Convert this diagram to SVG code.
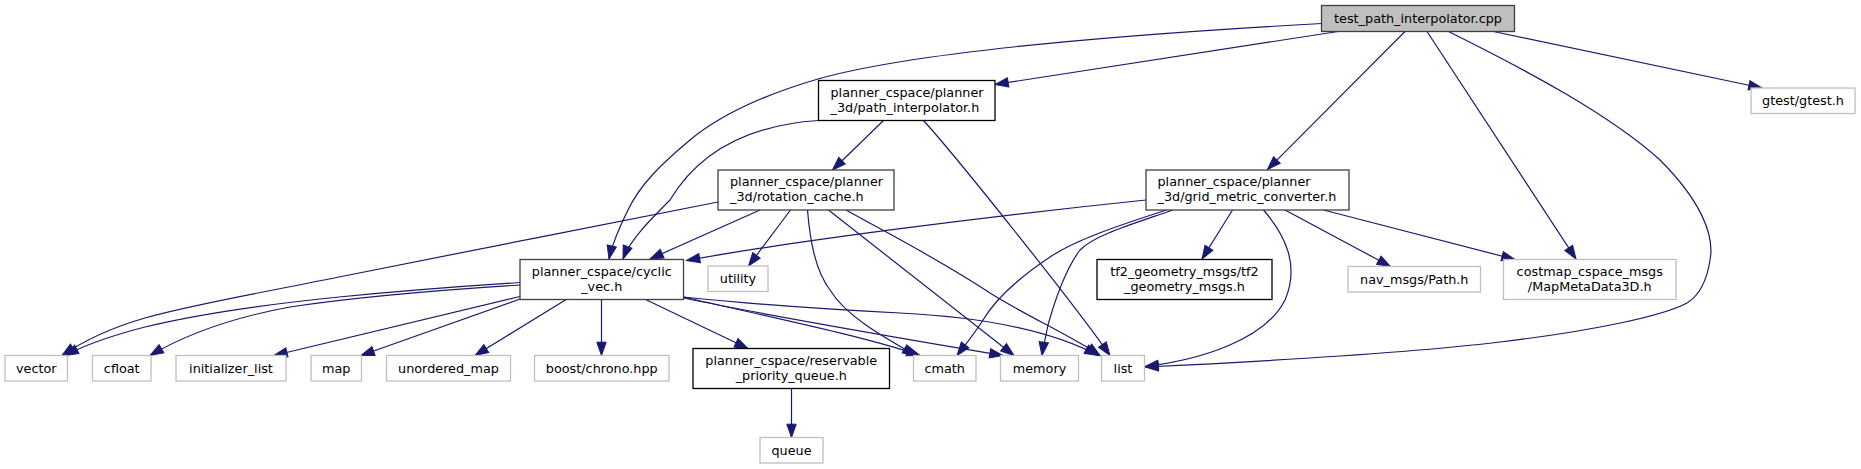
<svg xmlns="http://www.w3.org/2000/svg" width="1861" height="469" viewBox="0 0 1861 469">
<style>
rect{stroke-width:1.3}
.doc{fill:#fff;stroke:#000}
.dg{fill:#fff;stroke:#404040}
.ext{fill:#fff;stroke:#bfbfbf}
.root{fill:#bfbfbf;stroke:#404040}
text{font-family:"DejaVu Sans","Liberation Sans",sans-serif;font-size:12.8px;fill:#000}
.c{text-anchor:middle}
#edges path{fill:none;stroke:#191970;stroke-width:1.2;marker-end:url(#a)}
</style>
<defs>
<marker id="a" markerUnits="userSpaceOnUse" markerWidth="15" markerHeight="11" refX="13.3" refY="4.7" orient="auto" overflow="visible">
<path d="M0,0 L13.3,4.7 L0,9.4 Z" fill="#191970" stroke="#191970" stroke-width="1"/>
</marker>
</defs>
<rect width="1861" height="469" fill="#fff"/>
<g id="edges">
<path d="M1321.5,23.5 C1150,33 920,50 818,79 C760,96 720,115 690,140 C660,165 640,185 628,210 C618,230 612,245 609,259"/>
<path d="M1338,31.5 L995,84.5"/>
<path d="M1405,31.5 L1267.5,169.5"/>
<path d="M1427,31.5 L1576,259"/>
<path d="M1448.5,31.5 C1530,72 1610,115 1660,160 C1700,200 1715,235 1710,260 C1707,280 1700,295 1687,303 C1665,315 1600,330 1500,342 C1400,354 1250,362 1145,367"/>
<path d="M1493.5,31.5 L1762,88"/>
<path d="M818.5,120.5 C750,125 700,150 670,200 C650,220 630,240 623,259"/>
<path d="M883.5,120.5 L832.5,170"/>
<path d="M923.5,120.5 C955,155 1075,305 1110,355.5"/>
<path d="M718,202 C600,225 450,255 339,277 C260,293 190,305 145,318 C110,328 85,340 62,355.5"/>
<path d="M760,210 L650,259"/>
<path d="M790.5,210 L748.5,266"/>
<path d="M807.5,210 C810,240 815,270 830,290 C845,315 880,335 916,355.5"/>
<path d="M828.5,210 L1014,355.5"/>
<path d="M846,210 C900,240 940,260 990,293 C1030,318 1070,335 1100,355.5"/>
<path d="M1146,200 C1000,215 800,240 686.5,260.5"/>
<path d="M1166.5,210 C1120,225 1075,240 1050,257 C1020,277 995,300 983,320 C975,333 965,345 957,355.5"/>
<path d="M1173,210 C1130,225 1095,235 1080,250 C1065,270 1055,300 1048,325 C1045,340 1043,348 1042,355.5"/>
<path d="M1232.5,210 L1202,259"/>
<path d="M1263.5,210 C1285,235 1300,265 1285,300 C1265,340 1200,360 1145,366.5"/>
<path d="M1285,210 L1390.5,266.5"/>
<path d="M1323.5,210 L1515,259.5"/>
<path d="M520,282.5 C450,287 390,292 339,297 C260,305 190,316 145,327 C110,336 85,345 65,355.5"/>
<path d="M520,285 C440,290 350,298 290,307 C230,318 185,335 150,355.5"/>
<path d="M520,296.5 L274,355.5"/>
<path d="M520,299 L361,355.5"/>
<path d="M567,299 L475,355.5"/>
<path d="M601.5,299 L601.5,355.5"/>
<path d="M644.5,299 L748,348.5"/>
<path d="M683.5,297 C760,315 860,335 920,355.5"/>
<path d="M683.5,298 C780,318 900,338 1003,355.5"/>
<path d="M683.5,297 C760,305 840,310 900,313 C1000,318 1060,335 1098,355.5"/>
<path d="M791.5,388.5 L791.5,437.5"/>
</g>
<g id="root"><rect class="root" x="1321.5" y="5.5" width="193" height="26"/><text class="c" x="1418" y="23">test_path_interpolator.cpp</text></g>
<g id="path_interpolator"><rect class="doc" x="818.5" y="80.5" width="176.5" height="40"/><text x="830.5" y="96.5">planner_cspace/planner</text><text x="830.5" y="111.5">_3d/path_interpolator.h</text></g>
<g id="rotation_cache"><rect class="dg" x="718" y="170" width="176" height="40"/><text x="730" y="186">planner_cspace/planner</text><text x="730" y="201">_3d/rotation_cache.h</text></g>
<g id="grid_metric_converter"><rect class="dg" x="1146" y="170" width="203" height="40"/><text x="1157.5" y="186">planner_cspace/planner</text><text x="1157.5" y="201">_3d/grid_metric_converter.h</text></g>
<g id="gtest"><rect class="ext" x="1751" y="88" width="104" height="25.5"/><text class="c" x="1803" y="105.4">gtest/gtest.h</text></g>
<g id="cyclic_vec"><rect class="dg" x="520" y="259.5" width="163.5" height="40"/><text class="c" x="601.75" y="275.5">planner_cspace/cyclic</text><text class="c" x="601.75" y="290.5">_vec.h</text></g>
<g id="utility"><rect class="ext" x="708" y="266" width="60" height="25.5"/><text class="c" x="738" y="283.4">utility</text></g>
<g id="tf2"><rect class="doc" x="1097" y="259.5" width="175" height="40"/><text class="c" x="1184.5" y="275.5">tf2_geometry_msgs/tf2</text><text class="c" x="1184.5" y="290.5">_geometry_msgs.h</text></g>
<g id="nav_msgs"><rect class="ext" x="1348" y="266.5" width="132.5" height="25.5"/><text class="c" x="1414.25" y="283.9">nav_msgs/Path.h</text></g>
<g id="costmap"><rect class="ext" x="1503.5" y="259.5" width="172.5" height="40"/><text class="c" x="1589.75" y="275.5">costmap_cspace_msgs</text><text class="c" x="1589.75" y="290.5">/MapMetaData3D.h</text></g>
<g id="vector"><rect class="ext" x="5" y="355.5" width="62.5" height="25.5"/><text class="c" x="36.25" y="372.9">vector</text></g>
<g id="cfloat"><rect class="ext" x="92.5" y="355.5" width="58.5" height="25.5"/><text class="c" x="121.75" y="372.9">cfloat</text></g>
<g id="initializer_list"><rect class="ext" x="176" y="355.5" width="110" height="25.5"/><text class="c" x="231" y="372.9">initializer_list</text></g>
<g id="map"><rect class="ext" x="311" y="355.5" width="50.5" height="25.5"/><text class="c" x="336.25" y="372.9">map</text></g>
<g id="unordered_map"><rect class="ext" x="386.5" y="355.5" width="124" height="25.5"/><text class="c" x="448.5" y="372.9">unordered_map</text></g>
<g id="boost_chrono"><rect class="ext" x="534.5" y="355.5" width="134.5" height="25.5"/><text class="c" x="601.75" y="372.9">boost/chrono.hpp</text></g>
<g id="reservable"><rect class="doc" x="693" y="348.5" width="196.5" height="40"/><text class="c" x="791.25" y="364.5">planner_cspace/reservable</text><text class="c" x="791.25" y="379.5">_priority_queue.h</text></g>
<g id="cmath"><rect class="ext" x="913.5" y="355.5" width="62.5" height="25.5"/><text class="c" x="944.75" y="372.9">cmath</text></g>
<g id="memory"><rect class="ext" x="1000.5" y="355.5" width="78" height="25.5"/><text class="c" x="1039.5" y="372.9">memory</text></g>
<g id="list"><rect class="ext" x="1101.5" y="355.5" width="43" height="25.5"/><text class="c" x="1123" y="372.9">list</text></g>
<g id="queue"><rect class="ext" x="760" y="437.5" width="63" height="25.5"/><text class="c" x="791.5" y="455">queue</text></g>
</svg>
